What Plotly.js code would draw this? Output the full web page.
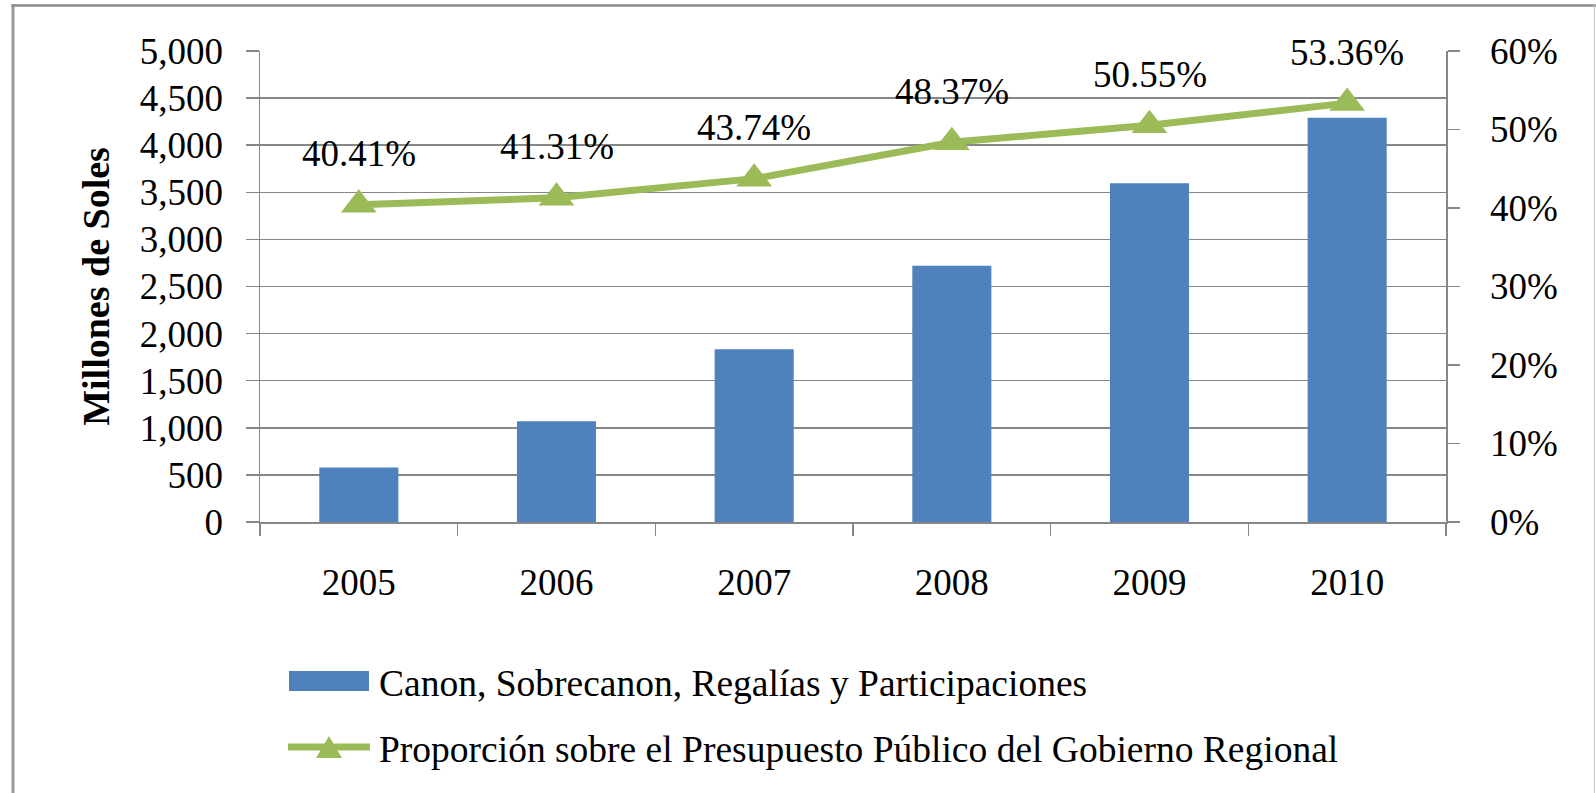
<!DOCTYPE html>
<html>
<head>
<meta charset="utf-8">
<script src="https://cdn.plot.ly/plotly-3.0.1.min.js"></script>
<style>
  html, body { margin: 0; padding: 0; background: #ffffff; }
  #chart { width: 1596px; height: 793px; }
</style>
</head>
<body>
<div id="chart"></div>
<script>
// ---- data ----
const years = ['2005', '2006', '2007', '2008', '2009', '2010'];
const canonValues = [578, 1070, 1833, 2721, 3595, 4292];          // millones de soles
const proportionPct = [40.41, 41.31, 43.74, 48.37, 50.55, 53.36];   // %
const barName = 'Canon, Sobrecanon, Regalías y Participaciones';
const lineName = 'Proporción sobre el Presupuesto Público del Gobierno Regional';
const yTitle = 'Millones de Soles';

// ---- styling ----
const W = 1596, H = 793;
const M = { l: 260, r: 150, t: 51, b: 271 };
const plotW = W - M.l - M.r, plotH = H - M.t - M.b;
const px = x => (x - M.l) / plotW;           // pixel -> paper x
const py = y => (H - M.b - y) / plotH;       // pixel -> paper y

const FONT = "'Liberation Serif', 'Times New Roman', serif";
const BLUE = '#4F81BD';
const GREEN = '#9BBB59';
const GRID = '#878787';

const bars = {
  type: 'bar',
  x: years,
  y: canonValues,
  name: barName,
  marker: { color: BLUE, line: { width: 0 } },
  hoverinfo: 'x+y'
};

const line = {
  type: 'scatter',
  mode: 'lines+markers',
  x: years,
  y: proportionPct.map(v => v / 100),
  yaxis: 'y2',
  name: lineName,
  line: { color: GREEN, width: 7 },
  marker: { symbol: 'triangle-up', size: 31, color: GREEN },
  cliponaxis: false
};

// data labels: x given as category index so numeric-looking names are not read as numbers
const labelAnnotations = years.map((yr, i) => ({
  x: i,
  y: proportionPct[i] / 100,
  xref: 'x',
  yref: 'y2',
  text: proportionPct[i].toFixed(2) + '%',
  showarrow: false,
  yshift: 51,
  xanchor: 'center',
  yanchor: 'middle',
  font: { family: FONT, size: 37, color: '#000000' }
}));

const legendAnnotations = [
  {
    xref: 'paper', yref: 'paper', x: px(377), y: py(683),
    xanchor: 'left', yanchor: 'middle', showarrow: false,
    text: barName, font: { family: FONT, size: 37.5, color: '#000000' }
  },
  {
    xref: 'paper', yref: 'paper', x: px(377), y: py(749),
    xanchor: 'left', yanchor: 'middle', showarrow: false,
    text: lineName, font: { family: FONT, size: 37.5, color: '#000000' }
  }
];

const shapes = [
  // outer frame
  { type: 'line', xref: 'paper', yref: 'paper', x0: px(13), x1: px(13), y0: py(4), y1: py(H + 2),
    line: { color: '#999999', width: 3 } },
  { type: 'line', xref: 'paper', yref: 'paper', x0: px(11.5), x1: px(W), y0: py(5.5), y1: py(5.5),
    line: { color: '#8c8c8c', width: 2.5 } },
  { type: 'line', xref: 'paper', yref: 'paper', x0: px(1594.5), x1: px(1594.5), y0: py(5), y1: py(H + 2),
    line: { color: '#c8c8c8', width: 1 } },
  // legend symbols
  { type: 'rect', xref: 'paper', yref: 'paper', x0: px(289), x1: px(369), y0: py(671), y1: py(691),
    fillcolor: BLUE, line: { width: 0 } },
  { type: 'line', xref: 'paper', yref: 'paper', x0: px(288), x1: px(370), y0: py(747), y1: py(747),
    line: { color: GREEN, width: 7 } },
  { type: 'path', xref: 'paper', yref: 'paper',
    path: 'M ' + px(316) + ' ' + py(758) + ' L ' + px(342) + ' ' + py(758) + ' L ' + px(329) + ' ' + py(736) + ' Z',
    fillcolor: GREEN, line: { width: 0 } }
];

const layout = {
  width: W,
  height: H,
  margin: { l: M.l, r: M.r, t: M.t, b: M.b, pad: 0 },
  paper_bgcolor: '#ffffff',
  plot_bgcolor: '#ffffff',
  showlegend: false,
  bargap: 0.6,
  font: { family: FONT, size: 36, color: '#000000' },
  xaxis: {
    type: 'category',
    range: [-0.5, years.length - 0.5],
    tickson: 'boundaries',
    ticks: 'outside',
    ticklen: 12,
    tickwidth: 1.5,
    tickcolor: GRID,
    showline: true,
    linecolor: GRID,
    linewidth: 1.5,
    showgrid: false,
    zeroline: false,
    tickangle: 0,
    tickfont: { family: FONT, size: 37, color: '#000000' },
    ticklabelstandoff: 27
  },
  yaxis: {
    range: [0, 5000],
    dtick: 500,
    tick0: 0,
    tickformat: ',',
    ticks: 'outside',
    ticklen: 13,
    tickwidth: 1.5,
    tickcolor: GRID,
    showline: true,
    linecolor: GRID,
    linewidth: 1.5,
    showgrid: true,
    gridcolor: GRID,
    gridwidth: 1.5,
    zeroline: false,
    tickfont: { family: FONT, size: 37, color: '#000000' },
    ticklabelstandoff: 15,
    title: {
      text: yTitle,
      font: { family: FONT, size: 38, weight: 'bold', color: '#000000' },
      standoff: 18
    }
  },
  yaxis2: {
    overlaying: 'y',
    side: 'right',
    range: [0, 0.6],
    dtick: 0.1,
    tick0: 0,
    tickformat: '.0%',
    ticks: 'outside',
    ticklen: 12,
    tickwidth: 1.5,
    tickcolor: GRID,
    showline: true,
    linecolor: GRID,
    linewidth: 1.5,
    showgrid: false,
    zeroline: false,
    tickfont: { family: FONT, size: 37, color: '#000000' },
    ticklabelstandoff: 23
  },
  annotations: labelAnnotations.concat(legendAnnotations),
  shapes: shapes
};

Plotly.newPlot('chart', [bars, line], layout, { displayModeBar: false, staticPlot: true });
</script>
</body>
</html>
